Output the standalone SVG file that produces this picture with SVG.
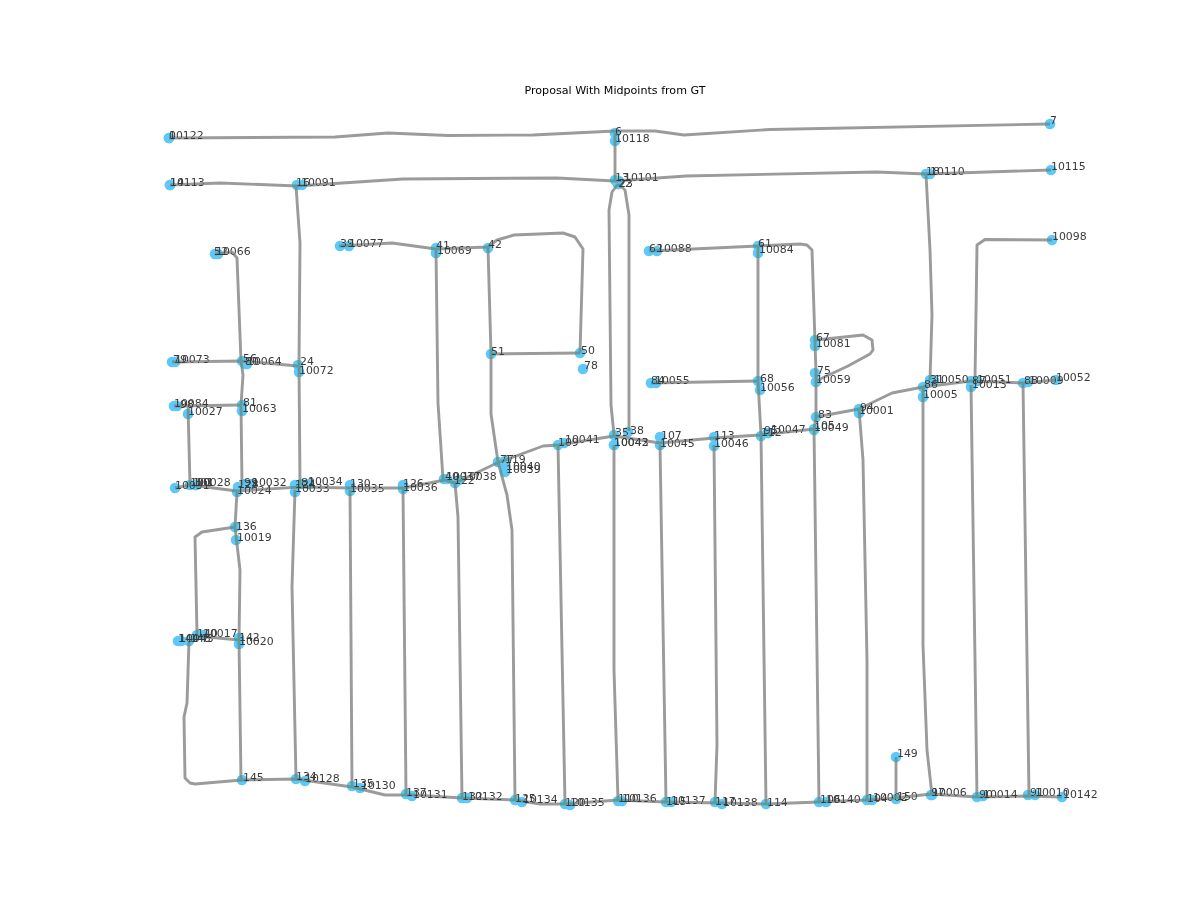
<svg xmlns="http://www.w3.org/2000/svg" width="1200" height="922" viewBox="0 0 1200 922">
<style>
.bg{fill:#fff}
circle{fill:#5fc8fa;r:5.3px;mix-blend-mode:darken}
text{font-family:"DejaVu Sans",sans-serif;font-size:10.9px;fill:#3a3a3a}
.title{font-size:11.1px;fill:#000;text-anchor:middle}
#connectors polyline{fill:none;stroke:#9b9b9b;stroke-width:2.9;stroke-linejoin:round;stroke-linecap:butt;mix-blend-mode:darken}
</style>
<rect class="bg" width="1200" height="922"/>
<text class="title" x="615" y="94">Proposal With Midpoints from GT</text>
<g id="nodes">
<g id="n0"><circle cx="169" cy="138"/><text x="169" y="139">0</text></g>
<g id="n10122"><circle cx="169" cy="138"/><text x="169" y="139">10122</text></g>
<g id="n14"><circle cx="170" cy="185"/><text x="170" y="186">14</text></g>
<g id="n10113"><circle cx="170" cy="185"/><text x="170" y="186">10113</text></g>
<g id="n16"><circle cx="297" cy="185"/><text x="296" y="186">16</text></g>
<g id="n10091"><circle cx="302" cy="185"/><text x="301" y="186">10091</text></g>
<g id="n6"><circle cx="615" cy="133"/><text x="615" y="135">6</text></g>
<g id="n10118"><circle cx="615" cy="141"/><text x="615" y="142">10118</text></g>
<g id="n13"><circle cx="615" cy="180"/><text x="615" y="181">13</text></g>
<g id="n10101"><circle cx="619" cy="181"/><text x="624" y="181">10101</text></g>
<g id="n22"><circle cx="618" cy="184"/><text x="618" y="187">22</text></g>
<g id="n23"><circle cx="618" cy="184"/><text x="619" y="187">23</text></g>
<g id="n7"><circle cx="1050" cy="124"/><text x="1050" y="124">7</text></g>
<g id="n18"><circle cx="926" cy="174"/><text x="926" y="175">18</text></g>
<g id="n10110"><circle cx="930" cy="174"/><text x="930" y="175">10110</text></g>
<g id="n10115"><circle cx="1051" cy="170"/><text x="1051" y="170">10115</text></g>
<g id="n10098"><circle cx="1052" cy="240"/><text x="1052" y="240">10098</text></g>
<g id="n52"><circle cx="215" cy="254"/><text x="214" y="255">52</text></g>
<g id="n10066"><circle cx="218" cy="254"/><text x="216" y="255">10066</text></g>
<g id="n39"><circle cx="340" cy="246"/><text x="340" y="247">39</text></g>
<g id="n10077"><circle cx="349" cy="246"/><text x="349" y="247">10077</text></g>
<g id="n41"><circle cx="436" cy="248"/><text x="436" y="249">41</text></g>
<g id="n10069"><circle cx="436" cy="253"/><text x="437" y="254">10069</text></g>
<g id="n42"><circle cx="488" cy="248"/><text x="488" y="248">42</text></g>
<g id="n61"><circle cx="758" cy="246"/><text x="758" y="247">61</text></g>
<g id="n10084"><circle cx="758" cy="253"/><text x="759" y="253">10084</text></g>
<g id="n62"><circle cx="649" cy="251"/><text x="649" y="252">62</text></g>
<g id="n10088"><circle cx="657" cy="251"/><text x="657" y="252">10088</text></g>
<g id="n51"><circle cx="491" cy="354"/><text x="491" y="355">51</text></g>
<g id="n50"><circle cx="580" cy="353"/><text x="581" y="354">50</text></g>
<g id="n78"><circle cx="583" cy="369"/><text x="584" y="369">78</text></g>
<g id="n79"><circle cx="172" cy="362"/><text x="173" y="363">79</text></g>
<g id="n10073"><circle cx="175" cy="362"/><text x="175" y="363">10073</text></g>
<g id="n56"><circle cx="242" cy="361"/><text x="243" y="362">56</text></g>
<g id="n80"><circle cx="245" cy="364"/><text x="245" y="365">80</text></g>
<g id="n10064"><circle cx="247" cy="364"/><text x="247" y="365">10064</text></g>
<g id="n24"><circle cx="298" cy="365"/><text x="300" y="365">24</text></g>
<g id="n10072"><circle cx="299" cy="372"/><text x="299" y="374">10072</text></g>
<g id="n67"><circle cx="815" cy="340"/><text x="816" y="341">67</text></g>
<g id="n10081"><circle cx="815" cy="346"/><text x="816" y="347">10081</text></g>
<g id="n75"><circle cx="815" cy="373"/><text x="817" y="374">75</text></g>
<g id="n10059"><circle cx="816" cy="382"/><text x="816" y="383">10059</text></g>
<g id="n84"><circle cx="651" cy="383"/><text x="651" y="384">84</text></g>
<g id="n10055"><circle cx="656" cy="383"/><text x="655" y="384">10055</text></g>
<g id="n68"><circle cx="758" cy="381"/><text x="760" y="382">68</text></g>
<g id="n10056"><circle cx="760" cy="390"/><text x="760" y="391">10056</text></g>
<g id="n31"><circle cx="930" cy="380"/><text x="930" y="383">31</text></g>
<g id="n10050"><circle cx="934" cy="381"/><text x="934" y="383">10050</text></g>
<g id="n86"><circle cx="923" cy="387"/><text x="924" y="388">86</text></g>
<g id="n10005"><circle cx="923" cy="397"/><text x="923" y="398">10005</text></g>
<g id="n87"><circle cx="971" cy="381"/><text x="972" y="384">87</text></g>
<g id="n10051"><circle cx="977" cy="381"/><text x="977" y="383">10051</text></g>
<g id="n10013"><circle cx="971" cy="387"/><text x="972" y="388">10013</text></g>
<g id="n88"><circle cx="1023" cy="383"/><text x="1024" y="384">88</text></g>
<g id="n10009"><circle cx="1028" cy="382"/><text x="1029" y="384">10009</text></g>
<g id="n10052"><circle cx="1056" cy="380"/><text x="1056" y="381">10052</text></g>
<g id="n83"><circle cx="816" cy="417"/><text x="818" y="418">83</text></g>
<g id="n105"><circle cx="814" cy="429"/><text x="814" y="429">105</text></g>
<g id="n10049"><circle cx="814" cy="430"/><text x="814" y="431">10049</text></g>
<g id="n94"><circle cx="859" cy="409"/><text x="860" y="411">94</text></g>
<g id="n10001"><circle cx="859" cy="413"/><text x="859" y="414">10001</text></g>
<g id="n95"><circle cx="768" cy="433"/><text x="764" y="434">95</text></g>
<g id="n10047"><circle cx="768" cy="433"/><text x="771" y="433">10047</text></g>
<g id="n112"><circle cx="761" cy="436"/><text x="761" y="436">112</text></g>
<g id="n113"><circle cx="714" cy="437"/><text x="714" y="439">113</text></g>
<g id="n10046"><circle cx="714" cy="446"/><text x="714" y="447">10046</text></g>
<g id="n107"><circle cx="660" cy="437"/><text x="661" y="439">107</text></g>
<g id="n10045"><circle cx="660" cy="445"/><text x="660" y="447">10045</text></g>
<g id="n35"><circle cx="614" cy="435"/><text x="615" y="436">35</text></g>
<g id="n38"><circle cx="628" cy="432"/><text x="630" y="434">38</text></g>
<g id="n10042"><circle cx="614" cy="445"/><text x="614" y="446">10042</text></g>
<g id="n10043"><circle cx="614" cy="445"/><text x="614" y="446">10043</text></g>
<g id="n109"><circle cx="558" cy="445"/><text x="558" y="446">109</text></g>
<g id="n10041"><circle cx="564" cy="443"/><text x="565" y="443">10041</text></g>
<g id="n77"><circle cx="498" cy="462"/><text x="500" y="463">77</text></g>
<g id="n119"><circle cx="505" cy="461"/><text x="505" y="463">119</text></g>
<g id="n10040"><circle cx="505" cy="467"/><text x="506" y="470">10040</text></g>
<g id="n10039"><circle cx="505" cy="472"/><text x="506" y="473">10039</text></g>
<g id="n40"><circle cx="444" cy="479"/><text x="445" y="480">40</text></g>
<g id="n10037"><circle cx="447" cy="479"/><text x="446" y="480">10037</text></g>
<g id="n122"><circle cx="455" cy="483"/><text x="454" y="484">122</text></g>
<g id="n10038"><circle cx="459" cy="480"/><text x="462" y="480">10038</text></g>
<g id="n130"><circle cx="350" cy="485"/><text x="350" y="487">130</text></g>
<g id="n10035"><circle cx="350" cy="491"/><text x="350" y="492">10035</text></g>
<g id="n126"><circle cx="403" cy="485"/><text x="403" y="487">126</text></g>
<g id="n10036"><circle cx="403" cy="489"/><text x="403" y="491">10036</text></g>
<g id="n82"><circle cx="301" cy="484"/><text x="301" y="486">82</text></g>
<g id="n10034"><circle cx="309" cy="484"/><text x="308" y="485">10034</text></g>
<g id="n124"><circle cx="295" cy="485"/><text x="295" y="488">124</text></g>
<g id="n10033"><circle cx="295" cy="492"/><text x="295" y="492">10033</text></g>
<g id="n99"><circle cx="245" cy="484"/><text x="244" y="486">99</text></g>
<g id="n10032"><circle cx="252" cy="484"/><text x="252" y="486">10032</text></g>
<g id="n128"><circle cx="238" cy="487"/><text x="238" y="488">128</text></g>
<g id="n10024"><circle cx="237" cy="492"/><text x="237" y="494">10024</text></g>
<g id="n100"><circle cx="190" cy="485"/><text x="190" y="486">100</text></g>
<g id="n101"><circle cx="196" cy="485"/><text x="193" y="486">101</text></g>
<g id="n10028"><circle cx="196" cy="485"/><text x="196" y="486">10028</text></g>
<g id="n10031"><circle cx="175" cy="488"/><text x="175" y="489">10031</text></g>
<g id="n81"><circle cx="242" cy="405"/><text x="243" y="406">81</text></g>
<g id="n10063"><circle cx="242" cy="411"/><text x="242" y="412">10063</text></g>
<g id="n10027"><circle cx="188" cy="414"/><text x="188" y="415">10027</text></g>
<g id="n98"><circle cx="177" cy="406"/><text x="180" y="408">98</text></g>
<g id="n10084b"><circle cx="174" cy="406"/><text x="174" y="407">10084</text></g>
<g id="n136"><circle cx="235" cy="527"/><text x="236" y="530">136</text></g>
<g id="n10019"><circle cx="236" cy="540"/><text x="237" y="541">10019</text></g>
<g id="n142"><circle cx="239" cy="638"/><text x="239" y="641">142</text></g>
<g id="n10020"><circle cx="239" cy="644"/><text x="239" y="645">10020</text></g>
<g id="n140"><circle cx="197" cy="635"/><text x="197" y="637">140</text></g>
<g id="n10017"><circle cx="203" cy="635"/><text x="203" y="637">10017</text></g>
<g id="n144"><circle cx="178" cy="641"/><text x="178" y="642">144</text></g>
<g id="n10043b"><circle cx="181" cy="641"/><text x="179" y="642">10043</text></g>
<g id="n148"><circle cx="189" cy="641"/><text x="190" y="642">148</text></g>
<g id="n145"><circle cx="242" cy="780"/><text x="243" y="781">145</text></g>
<g id="n134"><circle cx="296" cy="779"/><text x="296" y="780">134</text></g>
<g id="n10128"><circle cx="305" cy="781"/><text x="305" y="782">10128</text></g>
<g id="n135"><circle cx="352" cy="786"/><text x="353" y="787">135</text></g>
<g id="n10130"><circle cx="360" cy="788"/><text x="361" y="789">10130</text></g>
<g id="n137"><circle cx="406" cy="794"/><text x="406" y="796">137</text></g>
<g id="n10131"><circle cx="412" cy="796"/><text x="413" y="798">10131</text></g>
<g id="n132"><circle cx="462" cy="798"/><text x="462" y="800">132</text></g>
<g id="n10132"><circle cx="467" cy="798"/><text x="468" y="800">10132</text></g>
<g id="n125"><circle cx="515" cy="800"/><text x="515" y="802">125</text></g>
<g id="n10134"><circle cx="522" cy="802"/><text x="523" y="803">10134</text></g>
<g id="n120"><circle cx="565" cy="804"/><text x="565" y="806">120</text></g>
<g id="n10135"><circle cx="570" cy="805"/><text x="570" y="806">10135</text></g>
<g id="n110"><circle cx="618" cy="801"/><text x="618" y="802">110</text></g>
<g id="n10136"><circle cx="622" cy="801"/><text x="622" y="802">10136</text></g>
<g id="n115"><circle cx="666" cy="802"/><text x="666" y="805">115</text></g>
<g id="n10137"><circle cx="671" cy="802"/><text x="671" y="804">10137</text></g>
<g id="n117"><circle cx="715" cy="802"/><text x="715" y="805">117</text></g>
<g id="n10138"><circle cx="722" cy="804"/><text x="723" y="806">10138</text></g>
<g id="n114"><circle cx="766" cy="804"/><text x="767" y="806">114</text></g>
<g id="n106"><circle cx="819" cy="802"/><text x="820" y="803">106</text></g>
<g id="n10140"><circle cx="826" cy="802"/><text x="826" y="803">10140</text></g>
<g id="n104"><circle cx="867" cy="800"/><text x="867" y="802">104</text></g>
<g id="n10002"><circle cx="872" cy="800"/><text x="873" y="801">10002</text></g>
<g id="n150"><circle cx="896" cy="799"/><text x="897" y="800">150</text></g>
<g id="n149"><circle cx="896" cy="757"/><text x="897" y="757">149</text></g>
<g id="n97"><circle cx="931" cy="795"/><text x="931" y="796">97</text></g>
<g id="n10006"><circle cx="932" cy="795"/><text x="932" y="796">10006</text></g>
<g id="n90"><circle cx="977" cy="797"/><text x="979" y="798">90</text></g>
<g id="n10014"><circle cx="983" cy="796"/><text x="983" y="798">10014</text></g>
<g id="n91"><circle cx="1028" cy="795"/><text x="1030" y="796">91</text></g>
<g id="n10010"><circle cx="1035" cy="795"/><text x="1035" y="796">10010</text></g>
<g id="n10142"><circle cx="1062" cy="797"/><text x="1063" y="798">10142</text></g>
</g>
<g id="connectors">
<polyline points="169,138 335,137 388,133 448,135.5 533,135 615,131 655,131 684,135 770,129.5 1050,124"/>
<polyline points="170,185 220,183 297,186 403,179 557,178 615,181 686,176 877,172 926,174 1051,170"/>
<polyline points="615,133 615,180"/>
<polyline points="618,184 612,192 609,210 611,405 614,435"/>
<polyline points="618,184 625,190 629,215 629,431"/>
<polyline points="614,445 614,670 618,800"/>
<polyline points="296,186 300,243 299,365 300,485"/>
<polyline points="295,490 292,587 296,779"/>
<polyline points="215,254 232,252 237,258 241,361 243,375 241,405 242,485"/>
<polyline points="172,362 242,361 298,366"/>
<polyline points="174,406 242,405"/>
<polyline points="188,406 190,485"/>
<polyline points="175,488 190,485 237,491 300,487 350,488 403,488 445,480 455,483 497,463 543,446 558,445 614,436 660,443 714,438 760,435 814,429"/>
<polyline points="436,250 438,403 443,479"/>
<polyline points="455,483 458,517 462,798"/>
<polyline points="339,246 392,243 436,249 488,247 497,240 514,235 563,233 575,237 583,249 580,353"/>
<polyline points="488,248 491,354 491,414 498,462 507,495 512,530 515,800"/>
<polyline points="491,354 580,353"/>
<polyline points="237,492 235,527 240,570 239,640 241,780"/>
<polyline points="235,527 202,532 195,537 197,634"/>
<polyline points="197,636 239,640"/>
<polyline points="189,641 187,703 184,717 185,778 190,783 195,784 242,780 296,779 352,787 385,795 412,795 462,798 515,800 540,804 565,804 618,800 665,802 722,803 766,804 819,802 867,800 896,798 931,794 977,797 1028,796 1062,797"/>
<polyline points="350,490 352,786"/>
<polyline points="403,489 406,794"/>
<polyline points="558,445 565,804"/>
<polyline points="660,445 666,802"/>
<polyline points="714,445 717,745 715,802"/>
<polyline points="758,247 758,381 761,435 766,804"/>
<polyline points="758,246 800,244 807,245 812,250 816,373 816,417 814,429 819,802"/>
<polyline points="816,340 863,335 872,340 873,350 870,354 848,366 816,381"/>
<polyline points="651,383 758,381"/>
<polyline points="649,251 758,246"/>
<polyline points="816,417 859,409 892,393 923,387 971,381 1023,383 1056,380"/>
<polyline points="859,409 863,460 867,660 867,800"/>
<polyline points="923,387 923,645 927,750 932,795"/>
<polyline points="926,174 930,250 932,315 930,380"/>
<polyline points="1052,240 985,239.5 977,245 975,380"/>
<polyline points="971,385 977,797"/>
<polyline points="1023,383 1029,795"/>
<polyline points="896,757 896,798"/>
</g>
</svg>
